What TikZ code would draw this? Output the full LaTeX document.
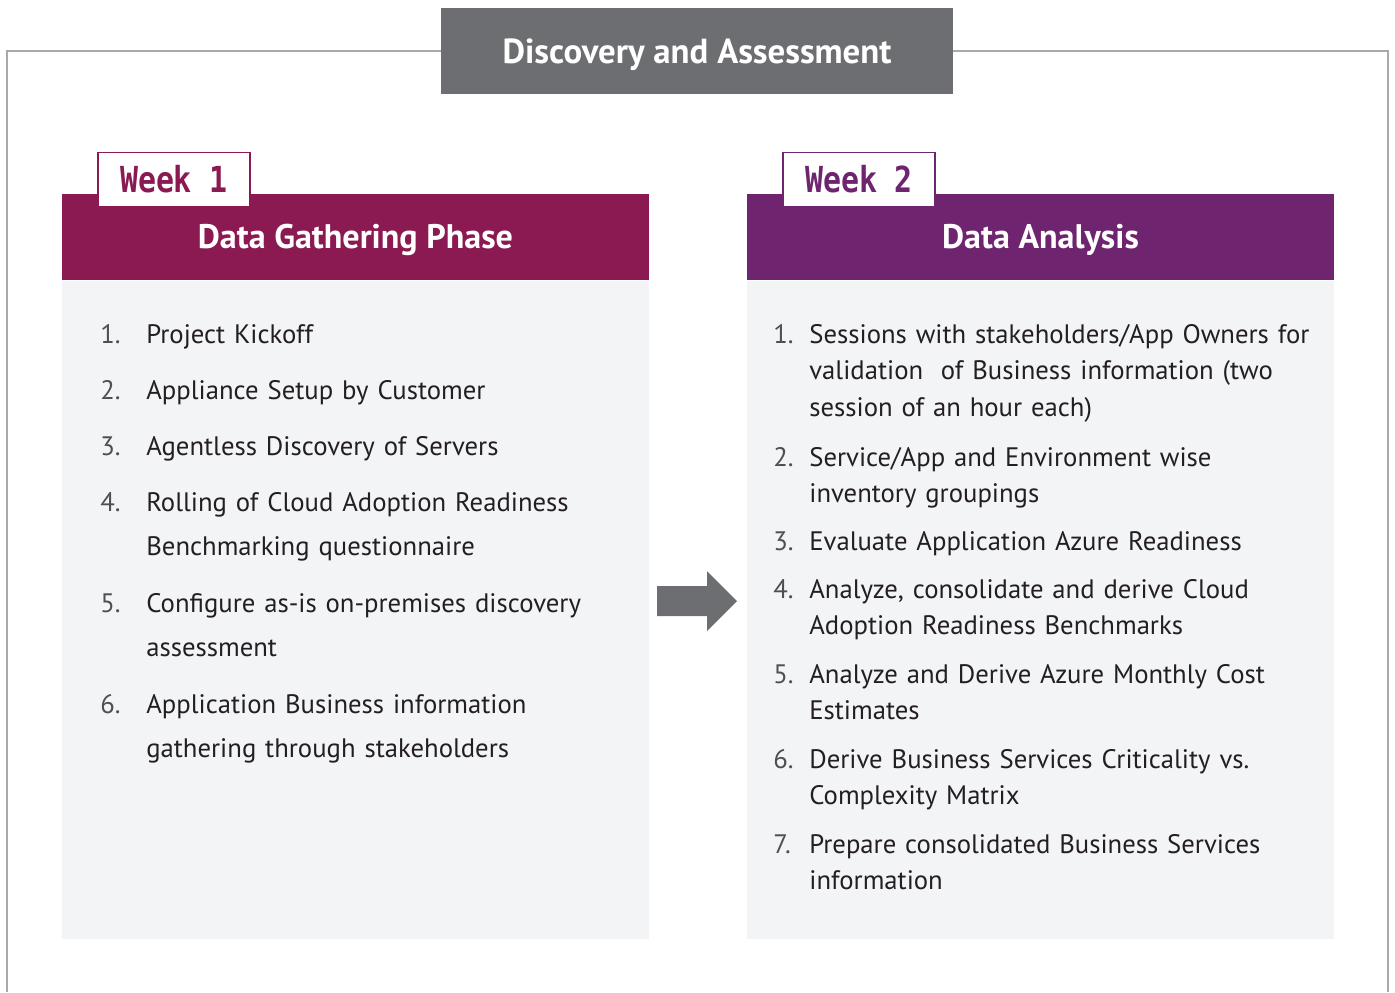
\documentclass[tikz,border=0pt]{standalone}
\usepackage{fontspec}
\setmainfont{PT Sans}
\setmonofont{DejaVu Sans Mono}
\usepackage{graphicx}
\usepackage{tikz}
\usetikzlibrary{positioning,calc}

\definecolor{wkone}{HTML}{8B1A52}
\definecolor{wktwo}{HTML}{6F2470}
\definecolor{ttlgray}{HTML}{6D6E71}
\definecolor{bodygray}{HTML}{F3F4F6}
\definecolor{framegray}{HTML}{A7A9AC}
\definecolor{txtdark}{HTML}{231F20}
\definecolor{numgray}{HTML}{4F4F52}

\newcommand{\weeklabel}[1]{\scalebox{1}[1.2]{#1}}

\tikzset{
  frameline/.style={draw=framegray, line width=1.2pt},
  ttl/.style={fill=ttlgray, text=white, minimum width=10.24cm, minimum height=1.72cm, inner sep=0pt,
    text height=13.9pt, text depth=0pt, font=\fontsize{19.8}{24}\selectfont\bfseries},
  hdr/.style={minimum width=11.74cm, minimum height=1.72cm, inner sep=0pt, text=white,
    text height=13.6pt, text depth=0pt, font=\fontsize{19.4}{23}\selectfont\bfseries},
  bodybox/.style={fill=bodygray, minimum width=11.74cm, minimum height=13.16cm, inner sep=0pt, anchor=north},
  weektab/.style={fill=white, line width=1.1pt, minimum width=3.04cm, minimum height=1.08cm, inner sep=0pt,
    text height=15pt, text depth=0pt, font=\ttfamily\bfseries\fontsize{17}{20}\selectfont},
  num/.style={anchor=base west, inner sep=0pt, text=numgray},
  lft/.style={anchor=base west, inner sep=0pt, text=txtdark, text width=9.8cm, align=left,
    font=\fontsize{15.2}{25.5}\selectfont},
  rgt/.style={anchor=base west, inner sep=0pt, text=txtdark, text width=10.6cm, align=left,
    font=\fontsize{15.2}{21}\selectfont}
}

\begin{document}
\begin{tikzpicture}[x=0.02cm, y=-0.02cm]
\useasboundingbox (0,0) rectangle (1395,992);

% title and outer frame
\node[ttl] (title) at (697,51) {Discovery and Assessment};
\draw[frameline] (title.west) -| (7,992);
\draw[frameline] (title.east) -| (1388,992);

% week 1
\node[hdr, fill=wkone] (h1) at (355.5,237) {Data Gathering Phase};
\node[bodybox] (b1) at (h1.south) {};
\node[weektab, draw=wkone, text=wkone] (w1) at (174,179.5) {\weeklabel{Week 1}};

% week 2
\node[hdr, fill=wktwo] (h2) at (1040.5,237) {Data Analysis};
\node[bodybox] (b2) at (h2.south) {};
\node[weektab, draw=wktwo, text=wktwo] (w2) at (859,179.5) {\weeklabel{Week 2}};

% arrow between the phases
\fill[ttlgray] (657,586) -- (707,586) -- (707,571) -- (737,601) -- (707,631) -- (707,616) -- (657,616) -- cycle;

% left list
\begin{scope}[font=\fontsize{15.2}{25.5}\selectfont]
\node[num] (l1n) at (100,343) {1.};
\node[lft] (l1) at (146,343) {Project Kickoff};
\node[num] (l2n) at (100,399) {2.};
\node[lft] (l2) at (146,399) {Appliance Setup by Customer};
\node[num] (l3n) at (100,455) {3.};
\node[lft] (l3) at (146,455) {Agentless Discovery of Servers};
\node[num] (l4n) at (100,511) {4.};
\node[lft] (l4) at (146,511) {Rolling of Cloud Adoption Readiness\\Benchmarking questionnaire};
\node[num] (l5n) at (100,612) {5.};
\node[lft] (l5) at (146,612) {Configure as-is on-premises discovery\\assessment};
\node[num] (l6n) at (100,713) {6.};
\node[lft] (l6) at (146,713) {Application Business information\\gathering through stakeholders};
\end{scope}

% right list
\begin{scope}[font=\fontsize{15.2}{21}\selectfont]
\node[num] (r1n) at (773,343) {1.};
\node[rgt] (r1) at (809,343) {Sessions with stakeholders/App Owners for\\validation\ \ of Business information (two\\session of an hour each)};
\node[num] (r2n) at (773,466) {2.};
\node[rgt] (r2) at (809,466) {Service/App and Environment wise\\inventory groupings};
\node[num] (r3n) at (773,550) {3.};
\node[rgt] (r3) at (809,550) {Evaluate Application Azure Readiness};
\node[num] (r4n) at (773,598) {4.};
\node[rgt] (r4) at (809,598) {Analyze, consolidate and derive Cloud\\Adoption Readiness Benchmarks};
\node[num] (r5n) at (773,683) {5.};
\node[rgt] (r5) at (809,683) {Analyze and Derive Azure Monthly Cost\\Estimates};
\node[num] (r6n) at (773,768) {6.};
\node[rgt] (r6) at (809,768) {Derive Business Services Criticality vs.\\Complexity Matrix};
\node[num] (r7n) at (773,853) {7.};
\node[rgt] (r7) at (809,853) {Prepare consolidated Business Services\\information};
\end{scope}
\end{tikzpicture}
\end{document}
